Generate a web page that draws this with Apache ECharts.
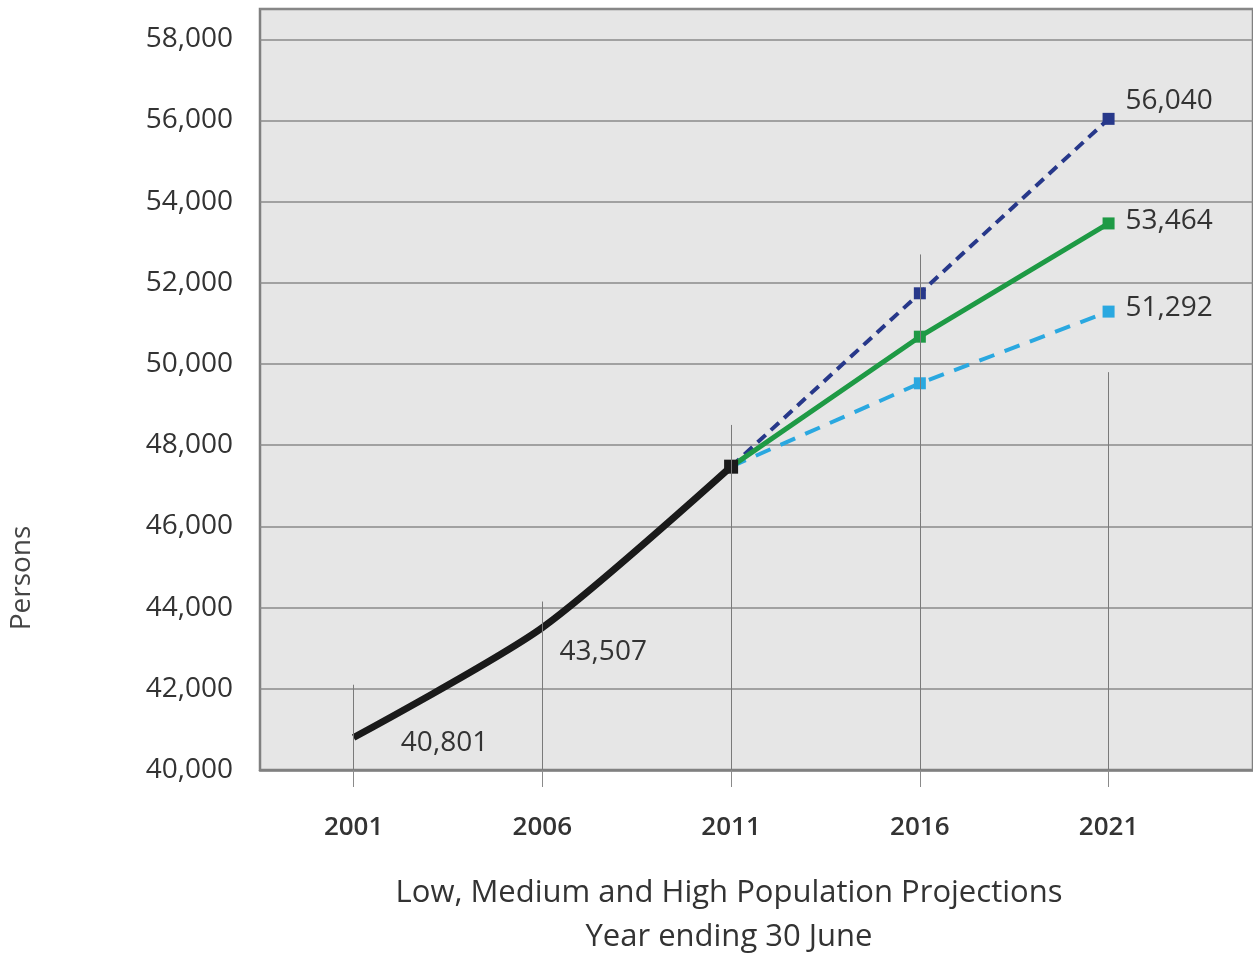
<!DOCTYPE html>
<html>
<head>
<meta charset="utf-8">
<script src="https://cdn.jsdelivr.net/npm/echarts@6/dist/echarts.min.js"></script>
<style>html,body{margin:0;padding:0;background:#fff;}#c{width:1253px;height:956px;}</style>
</head>
<body>
<div id="c"></div>
<script>
const years = [2001, 2006, 2011, 2016, 2021];
const historyYears = [2001, 2006, 2011];
const historyValues = [40801, 43507, 47472];
const projYears = [2011, 2016, 2021];
const highValues = [47472, 51743, 56040];
const mediumValues = [47472, 50674, 53464];
const lowValues = [47472, 49526, 51292];
const guideTops = [42100, 44150, 48500, 52700, 49800];
const yTickLabels = ['40,000','42,000','44,000','46,000','48,000','50,000','52,000','54,000','56,000','58,000'];
const yLabel = 'Persons';
const xTitle1 = 'Low, Medium and High Population Projections';
const xTitle2 = 'Year ending 30 June';

const FONT = 'Open Sans';
const TXT = '#333333';

function projData(vals, labelOffset) {
  return projYears.map((y, i) => {
    const item = { value: [y, vals[i]] };
    if (i === 0) item.symbol = 'none';
    if (i === projYears.length - 1) {
      item.label = { show: true, position: 'right', offset: labelOffset,
        formatter: p => p.value[1].toLocaleString('en-US'),
        color: TXT, fontSize: 28, fontFamily: FONT };
    }
    return item;
  });
}

const histOffsets = [[42, 6], [12, 24], null];
const histData = historyYears.map((y, i) => {
  const item = { value: [y, historyValues[i]] };
  if (i < 2) {
    item.symbolSize = 0.5;
    item.label = { show: true, position: 'right', offset: histOffsets[i],
      formatter: p => p.value[1].toLocaleString('en-US'),
      color: TXT, fontSize: 28, fontFamily: FONT };
  }
  return item;
});

const guideData = years.map((y, i) => [{ coord: [y, 40000] }, { coord: [y, guideTops[i]] }]);

const chart = echarts.init(document.getElementById('c'), null, { renderer: 'canvas' });
chart.setOption({
  animation: false,
  backgroundColor: '#ffffff',
  grid: { left: 260, top: 9, right: -4, bottom: 186, show: true,
    backgroundColor: '#e6e6e6', borderColor: '#808080', borderWidth: 2.5 },
  xAxis: {
    type: 'value', min: 1998.52, max: 2024.826,
    axisLine: { show: true, lineStyle: { color: '#808080', width: 2.5 } },
    axisTick: { show: true, customValues: years, length: 17, lineStyle: { color: '#8a8a8a', width: 1 } },
    axisLabel: { customValues: years, margin: 45, color: TXT, fontSize: 26, fontWeight: 600, fontFamily: FONT,
      formatter: v => String(v) },
    splitLine: { show: false }
  },
  yAxis: {
    type: 'value', min: 40000, max: 58746, interval: 2000,
    axisLine: { show: false }, axisTick: { show: false },
    axisLabel: { margin: 27, color: TXT, fontSize: 28, fontFamily: FONT,
      formatter: v => { if (v % 2000 !== 0) return ''; const k = (v - 40000) / 2000; return yTickLabels[k] || ''; } },
    splitLine: { show: true, lineStyle: { color: '#8a8a8a', width: 1.5 } }
  },
  graphic: [
    { type: 'text', x: 22, y: 578, rotation: Math.PI / 2,
      style: { text: yLabel, fontSize: 28, fontFamily: FONT, fill: '#444', align: 'center', verticalAlign: 'middle' } },
    { type: 'text', x: 729, y: 893,
      style: { text: xTitle1, fontSize: 31, fontFamily: FONT, fill: TXT, align: 'center', verticalAlign: 'middle' } },
    { type: 'text', x: 729, y: 937,
      style: { text: xTitle2, fontSize: 31, fontFamily: FONT, fill: TXT, align: 'center', verticalAlign: 'middle' } }
  ],
  series: [
    { name: 'guides', type: 'line', data: [], silent: true,
      markLine: { silent: true, symbol: 'none', label: { show: false },
        lineStyle: { color: '#7a7a7a', width: 1, type: 'solid' }, data: guideData } },
    { name: 'Low', type: 'line', data: projData(lowValues, [6, -4]),
      symbol: 'rect', symbolSize: 12, showAllSymbol: true,
      lineStyle: { color: '#2aa8e0', width: 4, type: [16, 11] },
      itemStyle: { color: '#2aa8e0' } },
    { name: 'High', type: 'line', data: projData(highValues, [6, -18]),
      symbol: 'rect', symbolSize: 12, showAllSymbol: true,
      lineStyle: { color: '#27388a', width: 4, type: [11, 7] },
      itemStyle: { color: '#27388a' } },
    { name: 'Medium', type: 'line', data: projData(mediumValues, [6, -2]),
      symbol: 'rect', symbolSize: 12, showAllSymbol: true,
      lineStyle: { color: '#1e9a45', width: 5 },
      itemStyle: { color: '#1e9a45' } },
    { name: 'History', type: 'line', data: histData, smooth: 0.25,
      symbol: 'rect', symbolSize: 14, showAllSymbol: true,
      lineStyle: { color: '#1a1a1a', width: 7 },
      itemStyle: { color: '#1a1a1a' } }
  ]
});
</script>
</body>
</html>
